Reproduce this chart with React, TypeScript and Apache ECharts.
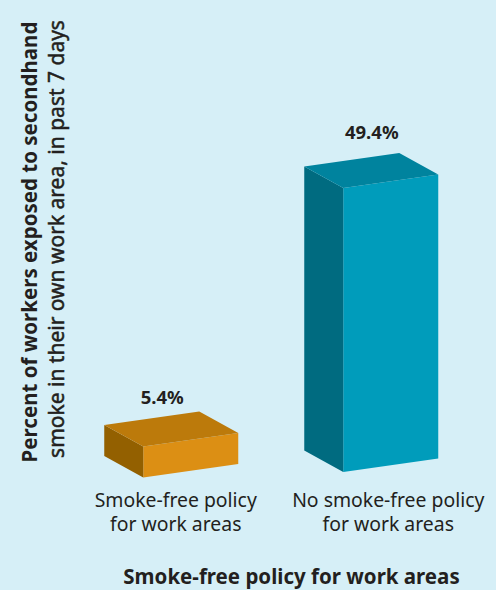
import React, { useEffect, useRef } from "react";
import * as echarts from "echarts";

const categories = ["Smoke-free policy\nfor work areas", "No smoke-free policy\nfor work areas"];
const exposurePercent = [5.4, 49.4];
const valueLabels = ["5.4%", "49.4%"];
const frontColors = ["#DC8F14", "#009CBB"];
const topColors = ["#BC7A0B", "#00839E"];
const sideColors = ["#936000", "#006B80"];
const xAxisTitle = "Smoke-free policy for work areas";
const yAxisTitleBold = "Percent of workers exposed to secondhand";
const yAxisTitleMedium = "smoke in their own work area, in past 7 days";

const FONT = '"Noto Sans", sans-serif';
const INK = "#231F20";

// Prism geometry, measured from the centre of each category band.
const BAR_SHIFT = [-2, -14.5];
const FRONT_LEFT = -30.5;
const FRONT_RIGHT = 64.5;
const BACK_LEFT = -69.5;
const FRONT_RISE = 13.5; // the front face climbs this much towards the right
const SIDE_RISE = 21.5; // the left face climbs this much towards the back
const FLOOR_SHIFT = [2.5, -3];
const LABEL_DX = [-11.5, -2];
const LABEL_GAP = [50, 56];

function renderPrism(params: any, api: any) {
  const i = api.value(0);
  const [bandCentre, y0] = api.coord([i, 0]);
  const [, yTop] = api.coord([i, api.value(1)]);
  const cx = bandCentre + BAR_SHIFT[i];
  const h = y0 - yTop;
  const floor = y0 + FLOOR_SHIFT[i];
  const xl = cx + FRONT_LEFT;
  const xr = cx + FRONT_RIGHT;
  const xb = cx + BACK_LEFT;
  const xbr = xb + (xr - xl);
  const top = floor - h;

  return {
    type: "group",
    children: [
      {
        type: "polygon",
        shape: { points: [[xl, floor], [xr, floor - FRONT_RISE], [xr, top - FRONT_RISE], [xl, top]] },
        style: { fill: frontColors[i] },
      },
      {
        type: "polygon",
        shape: { points: [[xb, floor - SIDE_RISE], [xl, floor], [xl, top], [xb, top - SIDE_RISE]] },
        style: { fill: sideColors[i] },
      },
      {
        type: "polygon",
        shape: {
          points: [
            [xl, top],
            [xr, top - FRONT_RISE],
            [xbr, top - FRONT_RISE - SIDE_RISE],
            [xb, top - SIDE_RISE],
          ],
        },
        style: { fill: topColors[i] },
      },
      {
        type: "text",
        x: cx + LABEL_DX[i],
        y: top - LABEL_GAP[i],
        style: {
          text: valueLabels[i],
          fill: INK,
          font: `bold 18.5px ${FONT}`,
          align: "center",
          verticalAlign: "middle",
        },
      },
    ],
  };
}

export default function App() {
  const ref = useRef<HTMLDivElement>(null);

  useEffect(() => {
    document.body.style.margin = "0";
    const chart = echarts.init(ref.current!, null, { renderer: "svg" });
    chart.setOption({
      animation: false,
      backgroundColor: "#D6EFF7",
      grid: { left: 69.5, width: 425, top: 15, height: 460 },
      xAxis: {
        type: "category",
        data: categories,
        axisLine: { show: false },
        axisTick: { show: false },
        axisLabel: {
          margin: 12,
          interval: 0,
          color: INK,
          fontFamily: FONT,
          fontSize: 19.4,
          lineHeight: 24,
        },
      },
      yAxis: {
        type: "value",
        min: 0,
        max: 80,
        show: false,
      },
      graphic: [
        {
          type: "text",
          x: 28.5,
          y: 242,
          rotation: Math.PI / 2,
          style: {
            text: yAxisTitleBold,
            align: "center",
            verticalAlign: "middle",
            fill: INK,
            font: `bold 20.5px ${FONT}`,
          },
        },
        {
          type: "text",
          x: 55.5,
          y: 239,
          rotation: Math.PI / 2,
          style: {
            text: yAxisTitleMedium,
            align: "center",
            verticalAlign: "middle",
            fill: INK,
            font: `21px ${FONT}`,
            stroke: INK,
            lineWidth: 0.5,
          },
        },
        {
          type: "text",
          x: 291.5,
          y: 576,
          style: {
            text: xAxisTitle,
            align: "center",
            verticalAlign: "middle",
            fill: INK,
            font: `bold 20.5px ${FONT}`,
          },
        },
      ],
      series: [
        {
          type: "custom",
          renderItem: renderPrism,
          clip: false,
          data: exposurePercent.map((v, i) => [i, v]),
          encode: { x: 0, y: 1 },
        },
      ],
    });
    return () => chart.dispose();
  }, []);

  return <div ref={ref} style={{ width: 496, height: 590 }} />;
}
